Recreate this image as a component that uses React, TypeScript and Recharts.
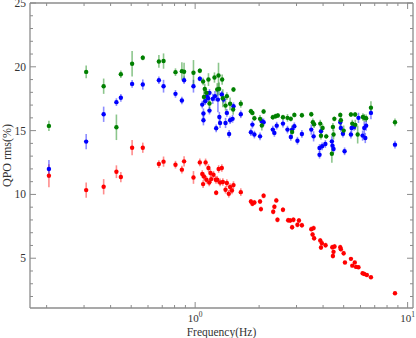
import React from "react";
import { ErrorBar, Scatter, ScatterChart, XAxis, YAxis } from "recharts";

const greenFreq = [
  0.205, 0.307, 0.371, 0.426, 0.447, 0.505, 0.567, 0.675, 0.71, 0.808,
  0.866, 0.887, 0.982, 1.052, 1.09, 1.11, 1.1, 1.13, 1.155, 1.168,
  1.233, 1.27, 1.288, 1.297, 1.34, 1.35, 1.39, 1.41, 1.46, 1.515,
  1.51, 1.64, 1.83, 1.86, 1.9, 2.02, 2.06, 2.1, 2.32, 2.39,
  2.45, 2.59, 2.72, 2.82, 2.86, 2.93, 3.18, 3.52, 3.58, 3.63,
  3.88, 3.91, 3.98, 4.14, 4.4, 4.45, 4.48, 4.52, 4.82, 4.85,
  5.0, 5.41, 5.49, 5.66, 5.67, 5.82, 6.16, 6.25, 6.38, 6.72,
  8.72,
];
const greenRms = [
  15.37, 19.6, 18.48, 15.26, 19.42, 20.24, 20.71, 20.42, 20.45, 19.58,
  19.66, 19.61, 19.53, 19.69, 18.85, 18.27, 17.64, 17.96, 19.0, 17.12,
  19.16, 18.22, 19.32, 18.27, 19.0, 17.54, 16.96, 17.7, 17.1, 18.22,
  16.65, 17.1, 16.52, 16.39, 15.97, 15.92, 15.4, 16.5, 16.05, 16.13,
  16.18, 16.05, 16.0, 15.92, 14.9, 16.23, 16.2, 16.28, 15.65, 15.5,
  15.55, 14.6, 15.2, 14.55, 13.19, 15.29, 14.7, 15.92, 16.23, 15.81,
  15.0, 16.26, 15.55, 16.26, 15.45, 14.69, 16.07, 16.0, 15.97, 16.8,
  15.65,
];
const greenErr = [
  0.4, 0.5, 0.6, 1.0, 0.3, 1.0, 0.2, 0.5, 0.6, 0.3,
  0.7, 0.7, 1.0, 0.2, 0.3, 0.4, 0.5, 0.3, 0.5, 0.4,
  0.4, 0.5, 1.0, 0.5, 0.4, 0.7, 0.4, 0.3, 0.5, 0.2,
  0.4, 0.3, 0.2, 0.2, 0.2, 0.3, 0.4, 0.2, 0.2, 0.2,
  0.2, 0.2, 0.3, 0.2, 0.5, 0.2, 0.2, 0.2, 0.3, 0.3,
  0.3, 0.3, 0.3, 0.2, 0.7, 0.3, 0.4, 0.2, 0.2, 0.4,
  0.4, 0.2, 0.3, 0.2, 0.4, 0.7, 0.3, 0.3, 0.3, 0.5,
  0.3,
];

const blueFreq = [
  0.205, 0.307, 0.371, 0.426, 0.447, 0.505, 0.567, 0.675, 0.71, 0.808,
  0.866, 0.887, 0.982, 1.052, 1.08, 1.094, 1.094, 1.115, 1.135, 1.15,
  1.168, 1.168, 1.21, 1.24, 1.256, 1.28, 1.3, 1.31, 1.335, 1.36,
  1.39, 1.41, 1.445, 1.46, 1.5, 1.515, 1.64, 1.83, 1.86, 1.9,
  2.02, 2.06, 2.1, 2.32, 2.36, 2.42, 2.59, 2.72, 2.82, 2.86,
  2.93, 3.03, 3.18, 3.52, 3.61, 3.85, 3.85, 3.91, 3.96, 4.1,
  4.4, 4.43, 4.48, 4.82, 4.85, 4.96, 5.05, 5.41, 5.45, 5.6,
  5.87, 6.14, 6.25, 6.32, 6.38, 6.72, 8.72,
];
const blueRms = [
  11.99, 14.14, 16.28, 17.23, 17.57, 18.66, 18.61, 18.95, 18.48, 17.88,
  17.36, 18.95, 18.48, 19.06, 17.04, 16.34, 15.81, 17.3, 17.7, 17.54,
  16.57, 17.96, 17.49, 17.7, 15.18, 17.43, 16.07, 15.6, 17.83, 17.43,
  15.6, 16.39, 14.74, 15.81, 15.92, 16.91, 16.28, 14.87, 15.47, 14.69,
  14.55, 15.73, 15.65, 15.08, 14.82, 15.39, 15.55, 15.08, 14.5, 15.08,
  15.34, 14.21, 14.74, 15.08, 14.55, 13.64, 13.11, 14.95, 13.77, 13.95,
  14.16, 13.82, 13.56, 15.65, 15.21, 14.76, 13.38, 14.69, 15.21, 15.29,
  16.0, 14.61, 15.21, 14.42, 15.39, 16.39, 13.9,
];
const blueErr = [
  0.7, 0.6, 0.6, 0.3, 0.3, 0.3, 0.4, 0.3, 0.5, 0.3,
  0.3, 0.3, 0.5, 0.2, 0.3, 0.4, 0.4, 0.3, 0.3, 0.3,
  0.3, 0.3, 0.4, 0.4, 0.3, 1.0, 0.4, 0.4, 0.3, 0.3,
  0.4, 0.3, 0.3, 0.3, 0.3, 0.3, 0.3, 0.3, 0.3, 0.3,
  0.3, 0.3, 0.3, 0.3, 0.3, 0.3, 0.3, 0.3, 0.3, 0.3,
  0.3, 0.3, 0.3, 0.4, 0.4, 0.3, 0.3, 0.3, 0.3, 0.3,
  0.4, 0.4, 0.3, 0.3, 0.3, 0.3, 0.3, 0.3, 0.3, 0.3,
  0.4, 0.4, 0.5, 0.4, 0.4, 0.5, 0.3,
];

const redFreq = [
  0.205, 0.307, 0.371, 0.426, 0.447, 0.505, 0.567, 0.675, 0.71, 0.808,
  0.866, 0.887, 0.982, 1.052, 1.08, 1.09, 1.1, 1.12, 1.13, 1.155,
  1.165, 1.18, 1.19, 1.22, 1.25, 1.256, 1.27, 1.29, 1.31, 1.335,
  1.35, 1.39, 1.41, 1.44, 1.46, 1.49, 1.515, 1.64, 1.83, 1.86,
  1.9, 2.02, 2.04, 2.1, 2.33, 2.36, 2.41, 2.44, 2.59, 2.74,
  2.8, 2.86, 2.9, 3.03, 3.08, 3.18, 3.52, 3.57, 3.61, 3.63,
  3.88, 3.91, 3.95, 4.11, 4.42, 4.45, 4.48, 4.53, 4.82, 4.85,
  5.0, 5.07, 5.41, 5.49, 5.64, 5.72, 5.87, 6.14, 6.25, 6.43,
  6.72, 8.72,
];
const redRms = [
  11.47, 10.34, 10.6, 11.78, 11.36, 13.66, 13.66, 12.38, 12.57, 12.33,
  11.94, 12.59, 11.33, 12.51, 11.6, 10.81, 11.41, 12.51, 11.15, 12.07,
  10.94, 11.68, 11.2, 11.54, 11.15, 10.13, 11.15, 11.99, 10.94, 12.07,
  10.97, 10.37, 10.89, 10.05, 10.58, 10.31, 10.73, 10.18, 9.45, 9.27,
  9.37, 9.45, 8.85, 9.9, 8.64, 9.03, 9.53, 8.01, 8.8, 7.98,
  7.96, 7.43, 8.01, 7.62, 7.96, 7.59, 7.28, 6.86, 7.36, 6.57,
  6.39, 5.84, 6.18, 6.02, 5.86, 5.18, 5.5, 5.92, 5.86, 5.71,
  5.39, 4.66, 4.95, 4.42, 4.66, 4.32, 4.29, 3.82, 3.77, 3.69,
  3.51, 2.25,
];
const redErr = [
  0.9, 0.6, 0.6, 0.5, 0.4, 0.6, 0.4, 0.3, 0.4, 0.3,
  0.3, 0.4, 0.5, 0.3, 0.3, 0.3, 0.3, 0.3, 0.3, 0.3,
  0.3, 0.3, 0.3, 0.3, 0.3, 0.2, 0.3, 0.3, 0.3, 0.3,
  0.3, 0.3, 0.3, 0.3, 0.3, 0.3, 0.3, 0.3, 0.2, 0.2,
  0.2, 0.2, 0.2, 0.2, 0.2, 0.2, 0.2, 0.2, 0.2, 0.2,
  0.2, 0.2, 0.2, 0.2, 0.2, 0.2, 0.2, 0.2, 0.2, 0.2,
  0.2, 0.2, 0.2, 0.2, 0.2, 0.2, 0.2, 0.2, 0.2, 0.2,
  0.2, 0.1, 0.1, 0.1, 0.1, 0.1, 0.1, 0.1, 0.1, 0.1,
  0.1, 0.1,
];

const xTicks = [0.2, 0.3, 0.4, 0.5, 0.6, 0.7, 0.8, 0.9, 1, 2, 3, 4, 5, 6, 7, 8, 9, 10];
const xMajor = [1, 10];
const yTicks = [2, 3, 4, 5, 6, 7, 8, 9, 10, 11, 12, 13, 14, 15, 16, 17, 18, 19, 20, 21, 22, 23, 24, 25];
const yMajor = [5, 10, 15, 20, 25];

const frame = "#8c8c8c";
const ink = "#333";
const font = "'Liberation Serif', 'DejaVu Serif', serif";
const xDomain = [0.167, 10.6];
const yDomain = [1.1, 25];

const rows = (f: number[], v: number[], e: number[]) => f.map((x, i) => ({ f: x, v: v[i], err: e[i] }));

const dot = (fill: string) => (p: any) => <circle cx={p.cx} cy={p.cy} r={2.2} fill={fill} />;

function BottomTick({ x, y, payload }: any) {
  const major = xMajor.includes(payload.value);
  const len = major ? 6 : 3;
  return (
    <g>
      <line x1={x} x2={x} y1={y} y2={y - len} stroke={frame} />
      {major && (
        <text x={x} y={y + 14} textAnchor="middle" fontSize={11} fontFamily={font} fill={ink}>
          10
          <tspan dy={-5} fontSize={7.5}>{payload.value === 1 ? "0" : "1"}</tspan>
        </text>
      )}
    </g>
  );
}

function TopTick({ x, y, payload }: any) {
  const len = xMajor.includes(payload.value) ? 6 : 3;
  return <line x1={x} x2={x} y1={y} y2={y + len} stroke={frame} />;
}

function LeftTick({ x, y, payload }: any) {
  const major = yMajor.includes(payload.value);
  return (
    <g>
      <line x1={x} x2={x + (major ? 6 : 3)} y1={y} y2={y} stroke={frame} />
      {major && (
        <text x={x - 4} y={y + 4} textAnchor="end" fontSize={11.5} fontFamily={font} fill={ink}>
          {payload.value}
        </text>
      )}
    </g>
  );
}

function RightTick({ x, y, payload }: any) {
  const len = yMajor.includes(payload.value) ? 6 : 3;
  return <line x1={x} x2={x - len} y1={y} y2={y} stroke={frame} />;
}

function YLabel({ viewBox }: any) {
  const cy = viewBox.y + viewBox.height / 2;
  return (
    <text x={7} y={cy} transform={`rotate(-90, 7, ${cy})`} textAnchor="middle" dominantBaseline="central" fontSize={12} fontFamily={font} fill={ink}>
      QPO rms(%)
    </text>
  );
}

function XLabel({ viewBox }: any) {
  const cx = viewBox.x + viewBox.width / 2;
  return (
    <text x={cx} y={335.5} textAnchor="middle" fontSize={11.5} fontFamily={font} fill={ink}>
      Frequency(Hz)
    </text>
  );
}

export default function App() {
  const axisLine = { stroke: frame, strokeWidth: 1.3 };
  const common = { type: "number" as const, allowDataOverflow: true, interval: 0, tickLine: false, tickSize: 0, tickMargin: 0, axisLine };
  return (
    <div style={{ position: "absolute", left: 0, top: 0, width: 416, height: 338, background: "#fff" }}>
      <ScatterChart width={416} height={338} margin={{ top: 2, right: 2, left: 0, bottom: 0 }}>
        <XAxis {...common} dataKey="f" scale="log" domain={xDomain} ticks={xTicks} tick={<BottomTick />} height={30} label={<XLabel />} />
        <XAxis {...common} xAxisId="top" orientation="top" dataKey="f" scale="log" domain={xDomain} ticks={xTicks} tick={<TopTick />} height={1} />
        <YAxis {...common} dataKey="v" domain={yDomain} ticks={yTicks} tick={<LeftTick />} width={30} label={<YLabel />} />
        <YAxis {...common} yAxisId="right" orientation="right" dataKey="v" domain={yDomain} ticks={yTicks} tick={<RightTick />} width={1} />
        <Scatter data={rows(redFreq, redRms, redErr)} shape={dot("#ff0000")} isAnimationActive={false}>
          <ErrorBar dataKey="err" direction="y" width={0} stroke="rgba(255,0,0,0.45)" strokeWidth={1.6} />
        </Scatter>
        <Scatter data={rows(blueFreq, blueRms, blueErr)} shape={dot("#0000ff")} isAnimationActive={false}>
          <ErrorBar dataKey="err" direction="y" width={0} stroke="rgba(0,0,255,0.45)" strokeWidth={1.6} />
        </Scatter>
        {/* same domains as the main axes, so green sits in the same place; it keeps the top/right frame alive */}
        <Scatter xAxisId="top" yAxisId="right" data={rows(greenFreq, greenRms, greenErr)} shape={dot("#008000")} isAnimationActive={false}>
          <ErrorBar dataKey="err" direction="y" width={0} stroke="rgba(0,128,0,0.45)" strokeWidth={1.6} />
        </Scatter>
      </ScatterChart>
    </div>
  );
}
